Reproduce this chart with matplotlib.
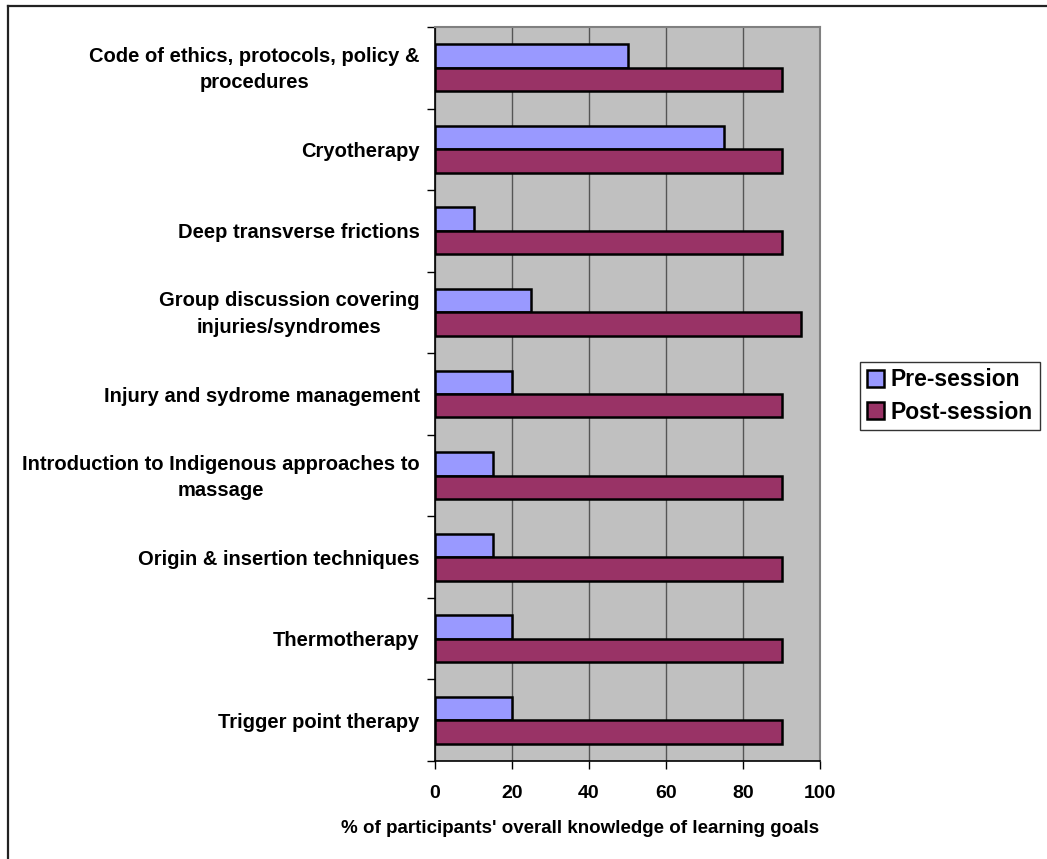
import numpy as np
import matplotlib.pyplot as plt
from matplotlib.lines import Line2D
from matplotlib.transforms import ScaledTranslation

# Learning goals and knowledge scores (% of participants)
topics = [
    "Code of ethics, protocols, policy &\nprocedures",
    "Cryotherapy",
    "Deep transverse frictions",
    "Group discussion covering\ninjuries/syndromes",
    "Injury and sydrome management",
    "Introduction to Indigenous approaches to\nmassage",
    "Origin & insertion techniques",
    "Thermotherapy",
    "Trigger point therapy",
]
pre_session = [50, 75, 10, 25, 20, 15, 15, 20, 20]
post_session = [90, 90, 90, 95, 90, 90, 90, 90, 90]
x_ticks = [0, 20, 40, 60, 80, 100]

plt.rcParams['font.family'] = ['Liberation Sans', 'DejaVu Sans']
plt.rcParams['font.weight'] = 'bold'

fig = plt.figure(figsize=(10.47, 8.59), dpi=100)
ax = fig.add_axes([435 / 1047, 1 - 761 / 859, 385 / 1047, 734 / 859])

y = np.arange(len(topics))
h = 0.288
ax.barh(y - h / 2, pre_session, height=h, color='#9999FF', edgecolor='black',
        linewidth=1.8, label='Pre-session', zorder=3)
ax.barh(y + h / 2, post_session, height=h, color='#993366', edgecolor='black',
        linewidth=1.8, label='Post-session', zorder=3)

ax.set_facecolor('#C0C0C0')
ax.set_xlim(0, 100)
ax.set_ylim(len(topics) - 0.5, -0.5)

ax.set_xticks(x_ticks)
ax.set_xticklabels([str(v) for v in x_ticks], fontsize=14, fontweight='bold')
ax.tick_params(axis='x', direction='out', length=6, width=1, pad=11, color='black')
ax.grid(axis='x', color='#555555', linewidth=1, zorder=1)

ax.set_yticks(y)
ax.set_yticklabels(topics, fontsize=14.5, fontweight='bold',
                   multialignment='center', linespacing=1.5)
ax.tick_params(axis='y', which='major', length=0, pad=11)
ax.set_yticks(np.arange(len(topics) + 1) - 0.5, minor=True)
ax.tick_params(axis='y', which='minor', direction='out', length=6, width=1, color='black')

# two-line labels sit a little high
lift = ScaledTranslation(0, 0.04, fig.dpi_scale_trans)
for lbl in ax.get_yticklabels():
    if '\n' in lbl.get_text():
        lbl.set_transform(lbl.get_transform() + lift)

for side in ('top', 'right'):
    ax.spines[side].set_color('#808080')
    ax.spines[side].set_linewidth(1.5)
for side in ('left', 'bottom'):
    ax.spines[side].set_color('black')
    ax.spines[side].set_linewidth(1.2)

ax.set_xlabel("% of participants' overall knowledge of learning goals",
              fontsize=13.5, fontweight='bold', labelpad=10)
ax.xaxis.set_label_coords((580 - 435) / 385, -0.081)
ax.xaxis.label.set_verticalalignment('top')

leg = ax.legend(loc='center left', bbox_to_anchor=(860 / 1047, 1 - 396 / 859),
                bbox_transform=fig.transFigure, fontsize=16.5, frameon=True,
                fancybox=False, handlelength=0.75, handleheight=0.75,
                handletextpad=0.3, borderpad=0.3, labelspacing=0.4,
                borderaxespad=0)
leg.get_frame().set_edgecolor('black')
leg.get_frame().set_linewidth(1.0)
for t in leg.get_texts():
    t.set_fontweight('bold')

# outer frame lines
fig.add_artist(Line2D([8 / 1047, 1], [1 - 6 / 859, 1 - 6 / 859],
                      transform=fig.transFigure, color='#222222', linewidth=1.6))
fig.add_artist(Line2D([8 / 1047, 8 / 1047], [0, 1 - 6 / 859],
                      transform=fig.transFigure, color='#222222', linewidth=1.6))

fig.savefig('out.png', dpi=100)
